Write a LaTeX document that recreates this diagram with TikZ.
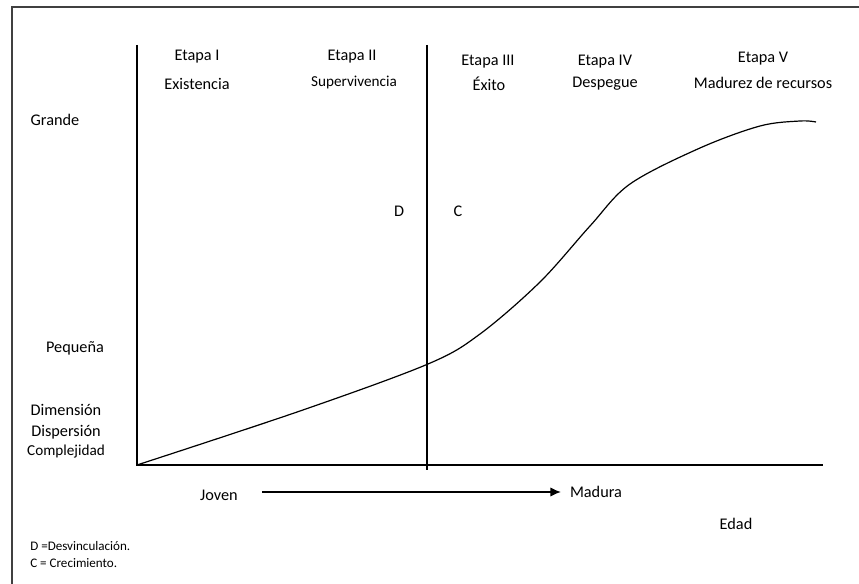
\documentclass[tikz,border=0pt]{standalone}
\usepackage{fontspec}
\setmainfont{Carlito}
\usetikzlibrary{arrows.meta}
\begin{document}
\begin{tikzpicture}[x=0.75pt,y=-0.75pt,
  lbl/.style={inner sep=0pt,font=\fontsize{12.2}{14}\selectfont},
  lbls/.style={inner sep=0pt,font=\fontsize{11.4}{13}\selectfont},
  note/.style={inner sep=0pt,anchor=west,font=\fontsize{9.8}{12}\selectfont},
  frame/.style={draw=black!75,line width=1.5pt},
  axis/.style={draw=black,line width=0.9pt},
  curve/.style={draw=black,line width=0.9pt}]
\useasboundingbox (0,0) rectangle (859,584);
% frame
\coordinate (ftl) at (12,7);
\coordinate (ftr) at (859,7);
\coordinate (fbl) at (12,584);
\draw[frame] (fbl) -- (ftl) -- (ftr);
% axes
\coordinate (yt) at (137,45);
\coordinate (o) at (137,465);
\coordinate (xe) at (823,465);
\draw[axis] (yt) -- (o) -- (xe);
\coordinate (dt) at (427,45);
\coordinate (db) at (427,470);
\draw[axis] (dt) -- (db);
% curve
\draw[curve] plot[smooth,tension=0.55] coordinates {(137,465) (300,411) (428,364) (480,334) (540,282) (590,226) (630,184) (700,148) (760,126) (800,121) (816,122)};
% stage labels
\node[lbl] (e1) at (197,57) {Etapa I};
\node[lbl] (e1b) at (197,84) {Existencia};
\node[lbl] (e2) at (352,57) {Etapa II};
\node[lbls] (e2b) at (354,82) {Supervivencia};
\node[lbl] (e3) at (488,62) {Etapa III};
\node[lbl] (e3b) at (489,84) {Éxito};
\node[lbl] (e4) at (605,62) {Etapa IV};
\node[lbl] (e4b) at (605,84) {Despegue};
\node[lbl] (e5) at (763,59) {Etapa V};
\node[lbl] (e5b) at (763,83) {Madurez de recursos};
% y labels
\node[lbl] (gr) at (55,120) {Grande};
\node[lbl] (d) at (399,211) {D};
\node[lbl] (c) at (458,211) {C};
\node[lbl] (pq) at (75,348) {Pequeña};
\node[lbl] (dim) at (66,410) {Dimensión};
\node[lbl] (dis) at (66,432) {Dispersión};
\node[lbls] (com) at (66,452) {Complejidad};
% x labels
\node[lbl] (jov) at (219,495) {Joven};
\node[lbl] (mad) at (596,492) {Madura};
\node[lbl] (edad) at (736,524) {Edad};
\coordinate (as) at (262,492);
\coordinate (ae) at (561,492);
\draw[line width=1.1pt,-{Latex[length=8pt,width=7pt]}] (as) -- (ae);
% notes
\node[note] (n1) at (30,546) {D =Desvinculación.};
\node[note] (n2) at (30,563) {C = Crecimiento.};
\end{tikzpicture}
\end{document}
